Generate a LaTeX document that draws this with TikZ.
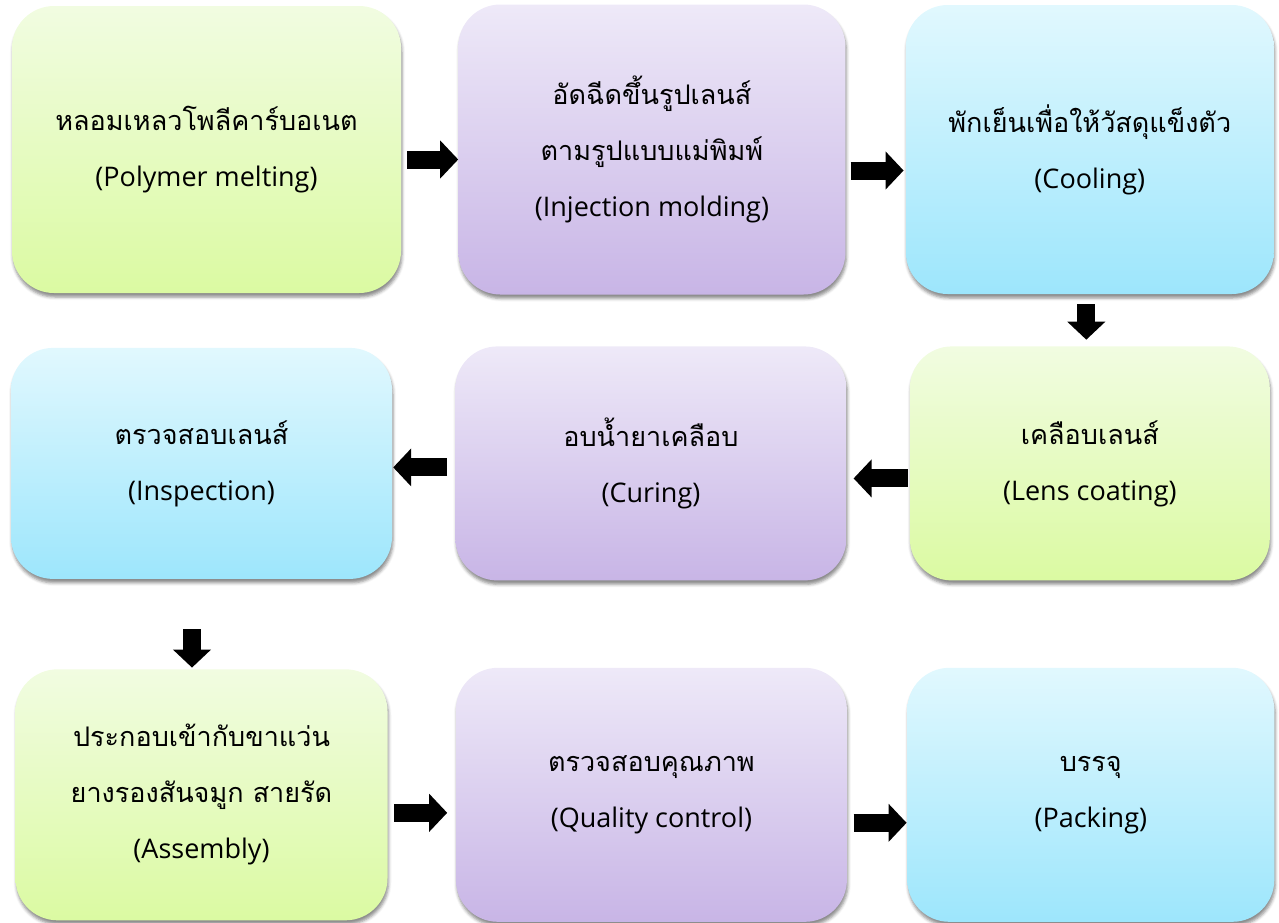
\documentclass[tikz,border=0pt]{standalone}
\usepackage{fontspec}
\setmainfont{Open Sans}
\newfontfamily\thaifont[Script=Thai]{Loma}
\definecolor{greenTop}{HTML}{F1FCE1}
\definecolor{greenBottom}{HTML}{DBFAA2}
\definecolor{purpleTop}{HTML}{EEE9F8}
\definecolor{purpleBottom}{HTML}{C8B5E6}
\definecolor{blueTop}{HTML}{E1F8FE}
\definecolor{blueBottom}{HTML}{9DE6FC}
\usetikzlibrary{arrows.meta, positioning, shadows.blur}
\tikzset{
  stepbox/.style={rounded corners=42pt, align=center, inner sep=0pt,
    font=\fontsize{27}{56}\selectfont,
    blur shadow={shadow xshift=1pt, shadow yshift=-4pt, shadow blur radius=3pt, shadow opacity=45}},
  greenbox/.style={stepbox, top color=greenTop, bottom color=greenBottom},
  purplebox/.style={stepbox, top color=purpleTop, bottom color=purpleBottom},
  bluebox/.style={stepbox, top color=blueTop, bottom color=blueBottom},
  flowarrow/.style={line width=18pt, -{Triangle[length=18pt,width=37pt]}},
}
\newcommand{\thai}[1]{{\thaifont #1}}

\begin{document}
\begin{tikzpicture}
\useasboundingbox (0,0) rectangle (1279pt,-922pt);
% row 1
\node[greenbox, minimum width=389pt, minimum height=287pt] (p1) at (206.5pt,-149.5pt) {\thai{หลอมเหลวโพลีคาร์บอเนต}\\(Polymer melting)};
\node[purplebox, minimum width=387pt, minimum height=290pt, right=57pt of p1] (p2) {\thai{อัดฉีดขึ้นรูปเลนส์}\\\thai{ตามรูปแบบแม่พิมพ์}\\(Injection molding)};
\node[bluebox, minimum width=368pt, minimum height=289pt, right=60pt of p2] (p3) {\thai{พักเย็นเพื่อให้วัสดุแข็งตัว}\\(Cooling)};
% row 2
\node[greenbox, minimum width=360pt, minimum height=234pt, below=52pt of p3] (p6) {\thai{เคลือบเลนส์}\\(Lens coating)};
\node[purplebox, minimum width=391pt, minimum height=234pt, left=63pt of p6] (p5) {\thai{อบน้ำยาเคลือบ}\\(Curing)};
\node[bluebox, minimum width=381pt, minimum height=231pt, left=63pt of p5] (p4) {\thai{ตรวจสอบเลนส์}\\(Inspection)};
% row 3
\node[greenbox, minimum width=372pt, minimum height=251pt, below=90pt of p4] (p7) {\thai{ประกอบเข้ากับขาแว่น}\\\thai{ยางรองสันจมูก สายรัด}\\(Assembly)};
\node[purplebox, minimum width=391pt, minimum height=254pt, right=68pt of p7] (p8) {\thai{ตรวจสอบคุณภาพ}\\(Quality control)};
\node[bluebox, minimum width=367pt, minimum height=254pt, right=60pt of p8] (p9) {\thai{บรรจุ}\\(Packing)};
% arrows
\draw[flowarrow, shorten <=6pt] ([yshift=-10pt]p1.east) -- ([yshift=-10pt]p2.west);
\draw[flowarrow, shorten <=5pt, shorten >=2pt] ([yshift=-21pt]p2.east) -- ([yshift=-21pt]p3.west);
\draw[flowarrow, shorten <=10pt, shorten >=3pt] ([xshift=-3.5pt]p3.south) -- ([xshift=-3.5pt,yshift=3.5pt]p6.north);
\draw[flowarrow, shorten <=2pt, shorten >=7pt] ([yshift=-15pt]p6.west) -- ([yshift=-15pt]p5.east);
\draw[flowarrow, shorten <=8pt, shorten >=1pt] ([yshift=-4pt]p5.west) -- ([yshift=-4pt]p4.east);
\draw[flowarrow, shorten <=50pt, shorten >=1.5pt] ([xshift=-9.5pt]p4.south) -- ([xshift=-9.5pt]p7.north);
\draw[flowarrow, shorten <=6.5pt, shorten >=8.5pt] ([yshift=-18pt]p7.east) -- ([yshift=-18pt]p8.west);
\draw[flowarrow, shorten <=6.5pt, shorten >=0.5pt] ([yshift=-28pt]p8.east) -- ([yshift=-28pt]p9.west);
\end{tikzpicture}
\end{document}
